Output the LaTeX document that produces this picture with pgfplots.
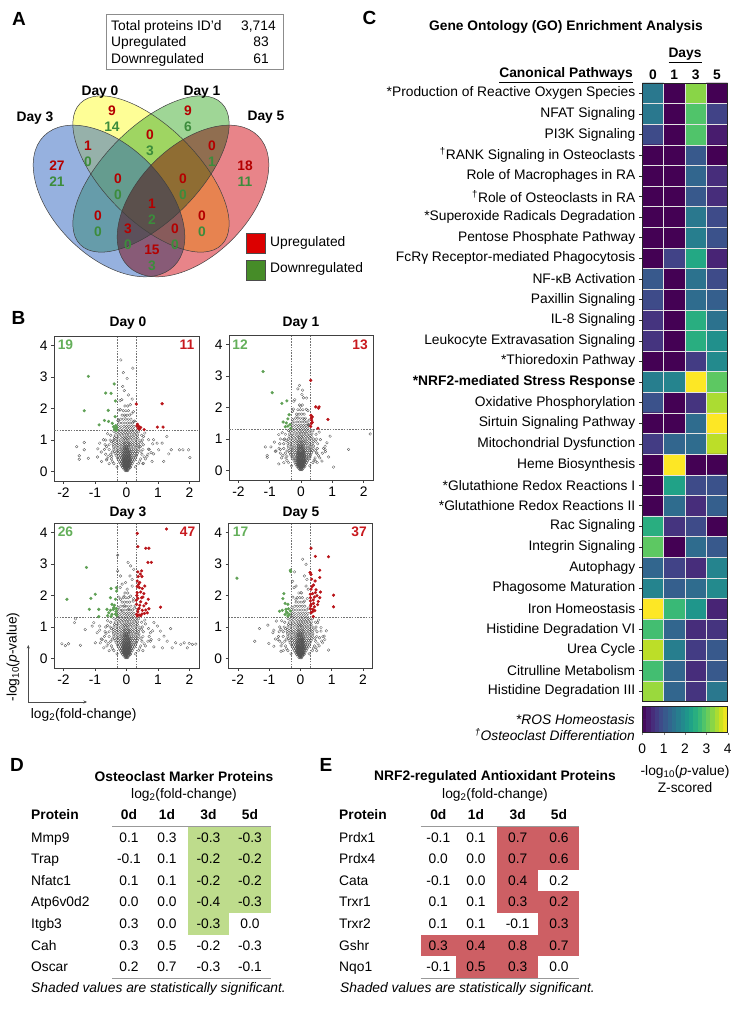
\documentclass[border=0pt]{standalone}
\usepackage{pgfplots}
\pgfplotsset{compat=1.18}
\usepackage{pgfplotstable}
\usetikzlibrary{arrows.meta}
\usepackage{fontspec}
\setmainfont{Liberation Sans}
\newcommand\fs{\fontsize{13.8}{16}\selectfont}
\newcommand\lf{\fontsize{19}{20}\selectfont\bfseries}
\definecolor{vgreen}{RGB}{95,160,85}
\definecolor{vred}{RGB}{185,20,25}
\definecolor{cntgreen}{RGB}{100,175,90}
\definecolor{cntred}{RGB}{200,25,30}
\definecolor{vennblue}{RGB}{46,100,191}
\definecolor{vennyellow}{RGB}{253,253,46}
\definecolor{venngreen}{RGB}{64,173,46}
\definecolor{vennred}{RGB}{210,10,20}
\definecolor{numred}{RGB}{180,0,0}
\definecolor{numgreen}{RGB}{60,140,60}
\definecolor{shadegreen}{RGB}{190,220,140}
\definecolor{shadered}{RGB}{205,95,100}
\definecolor{legred}{RGB}{220,0,0}
\definecolor{leggreen}{RGB}{70,140,40}

% ---------- volcano data ----------
\pgfplotstableread[row sep=\\]{
x y\\
-0.04 0.03\\ 0.00 0.03\\ 0.04 0.03\\
-0.08 0.08\\ -0.03 0.08\\ 0.02 0.08\\ 0.07 0.08\\
-0.12 0.13\\ -0.07 0.13\\ -0.02 0.13\\ 0.03 0.13\\ 0.08 0.13\\ 0.12 0.13\\
-0.16 0.19\\ -0.11 0.19\\ -0.06 0.19\\ -0.01 0.19\\ 0.04 0.19\\ 0.09 0.19\\ 0.14 0.19\\
-0.19 0.25\\ -0.13 0.25\\ -0.08 0.25\\ -0.03 0.25\\ 0.02 0.25\\ 0.07 0.25\\ 0.12 0.25\\ 0.18 0.25\\
-0.22 0.31\\ -0.16 0.31\\ -0.10 0.31\\ -0.05 0.31\\ 0.00 0.31\\ 0.05 0.31\\ 0.10 0.31\\ 0.15 0.31\\ 0.21 0.31\\
-0.26 0.37\\ -0.19 0.37\\ -0.13 0.37\\ -0.07 0.37\\ -0.02 0.37\\ 0.03 0.37\\ 0.08 0.37\\ 0.13 0.37\\ 0.19 0.37\\ 0.25 0.37\\
-0.29 0.43\\ -0.22 0.43\\ -0.15 0.43\\ -0.09 0.43\\ -0.04 0.43\\ 0.01 0.43\\ 0.06 0.43\\ 0.11 0.43\\ 0.17 0.43\\ 0.23 0.43\\ 0.29 0.43\\
-0.33 0.50\\ -0.25 0.50\\ -0.18 0.50\\ -0.11 0.50\\ -0.05 0.50\\ 0.00 0.50\\ 0.05 0.50\\ 0.11 0.50\\ 0.17 0.50\\ 0.24 0.50\\ 0.31 0.50\\
-0.36 0.57\\ -0.27 0.57\\ -0.19 0.57\\ -0.12 0.57\\ -0.06 0.57\\ 0.00 0.57\\ 0.06 0.57\\ 0.12 0.57\\ 0.19 0.57\\ 0.26 0.57\\ 0.34 0.57\\
-0.38 0.64\\ -0.29 0.64\\ -0.21 0.64\\ -0.13 0.64\\ -0.06 0.64\\ 0.01 0.64\\ 0.07 0.64\\ 0.14 0.64\\ 0.21 0.64\\ 0.29 0.64\\ 0.37 0.64\\
-0.40 0.71\\ -0.30 0.71\\ -0.21 0.71\\ -0.13 0.71\\ -0.06 0.71\\ 0.01 0.71\\ 0.08 0.71\\ 0.15 0.71\\ 0.22 0.71\\ 0.30 0.71\\ 0.39 0.71\\
-0.41 0.78\\ -0.31 0.78\\ -0.22 0.78\\ -0.14 0.78\\ -0.07 0.78\\ 0.00 0.78\\ 0.07 0.78\\ 0.14 0.78\\ 0.22 0.78\\ 0.31 0.78\\ 0.40 0.78\\
-0.42 0.85\\ -0.32 0.85\\ -0.22 0.85\\ -0.13 0.85\\ -0.05 0.85\\ 0.03 0.85\\ 0.11 0.85\\ 0.19 0.85\\ 0.28 0.85\\ 0.38 0.85\\
-0.41 0.92\\ -0.31 0.92\\ -0.21 0.92\\ -0.12 0.92\\ -0.04 0.92\\ 0.04 0.92\\ 0.12 0.92\\ 0.20 0.92\\ 0.29 0.92\\ 0.39 0.92\\
-0.40 1.00\\ -0.30 1.00\\ -0.20 1.00\\ -0.11 1.00\\ -0.03 1.00\\ 0.05 1.00\\ 0.13 1.00\\ 0.21 1.00\\ 0.30 1.00\\ 0.40 1.00\\
-0.38 1.08\\ -0.28 1.08\\ -0.18 1.08\\ -0.09 1.08\\ -0.01 1.08\\ 0.07 1.08\\ 0.15 1.08\\ 0.24 1.08\\ 0.34 1.08\\
-0.36 1.16\\ -0.26 1.16\\ -0.16 1.16\\ -0.07 1.16\\ 0.01 1.16\\ 0.09 1.16\\ 0.17 1.16\\ 0.26 1.16\\ 0.35 1.16\\
-0.33 1.24\\ -0.23 1.24\\ -0.13 1.24\\ -0.04 1.24\\ 0.04 1.24\\ 0.12 1.24\\ 0.20 1.24\\ 0.29 1.24\\
-0.29 1.33\\ -0.20 1.33\\ -0.11 1.33\\ -0.02 1.33\\ 0.06 1.33\\ 0.14 1.33\\ 0.22 1.33\\
-0.26 1.43\\ -0.17 1.43\\ -0.08 1.43\\ 0.00 1.43\\ 0.08 1.43\\ 0.16 1.43\\ 0.24 1.43\\
-0.22 1.54\\ -0.13 1.54\\ -0.05 1.54\\ 0.03 1.54\\ 0.11 1.54\\ 0.19 1.54\\
-0.18 1.66\\ -0.10 1.66\\ -0.02 1.66\\ 0.06 1.66\\ 0.14 1.66\\
-0.14 1.79\\ -0.06 1.79\\ 0.02 1.79\\ 0.10 1.79\\
-0.10 1.93\\ -0.02 1.93\\ 0.06 1.93\\
-0.05 2.08\\ 0.04 2.08\\
-0.02 0.05\\ 0.02 0.05\\
-0.05 0.10\\ 0.00 0.10\\ 0.05 0.10\\
-0.09 0.16\\ -0.04 0.16\\ 0.01 0.16\\ 0.06 0.16\\ 0.10 0.16\\
-0.10 0.22\\ -0.05 0.22\\ 0.00 0.22\\ 0.05 0.22\\ 0.10 0.22\\
-0.11 0.28\\ -0.05 0.28\\ 0.01 0.28\\ 0.07 0.28\\ 0.12 0.28\\
-0.12 0.34\\ -0.06 0.34\\ 0.00 0.34\\ 0.06 0.34\\ 0.12 0.34\\
-0.11 0.40\\ -0.05 0.40\\ 0.01 0.40\\ 0.07 0.40\\ 0.13 0.40\\
-0.12 0.47\\ -0.06 0.47\\ 0.00 0.47\\ 0.06 0.47\\ 0.12 0.47\\
-0.10 0.54\\ -0.03 0.54\\ 0.03 0.54\\ 0.09 0.54\\
-0.10 0.61\\ -0.03 0.61\\ 0.04 0.61\\ 0.10 0.61\\
-0.09 0.68\\ -0.02 0.68\\ 0.04 0.68\\ 0.10 0.68\\
-0.08 0.75\\ -0.01 0.75\\ 0.05 0.75\\
-0.08 0.82\\ 0.00 0.82\\ 0.07 0.82\\
-0.02 0.12\\ 0.02 0.12\\ -0.06 0.18\\ 0.03 0.18\\ -0.07 0.24\\ 0.04 0.24\\
-0.08 0.30\\ -0.02 0.30\\ 0.03 0.30\\ 0.09 0.30\\
-0.09 0.36\\ -0.03 0.36\\ 0.03 0.36\\ 0.09 0.36\\
-0.09 0.44\\ -0.03 0.44\\ 0.03 0.44\\ 0.09 0.44\\
-0.08 0.52\\ 0.00 0.52\\ 0.07 0.52\\ -0.07 0.60\\ 0.00 0.60\\ 0.07 0.60\\
-0.05 0.72\\ 0.02 0.72\\ -0.08 0.90\\ 0.00 0.90\\ 0.08 0.90\\ -0.06 1.05\\ 0.02 1.05\\
-0.30 0.15\\ 0.28 0.15\\
-0.40 0.25\\ 0.38 0.25\\ -0.55 0.25\\ 0.52 0.25\\
-0.48 0.40\\ 0.45 0.40\\ -0.62 0.40\\ 0.60 0.40\\
-0.50 0.55\\ 0.49 0.55\\ -0.66 0.55\\ 0.68 0.55\\
-0.55 0.70\\ 0.52 0.70\\ -0.70 0.70\\ 0.72 0.70\\
-0.55 0.85\\ 0.53 0.85\\ -0.68 0.85\\
-0.52 1.00\\ 0.50 1.00\\ -0.66 1.00\\
-0.50 1.15\\ 0.48 1.15\\
-0.45 0.32\\ 0.42 0.33\\ -0.58 0.48\\ 0.56 0.47\\ -0.45 0.62\\ 0.46 0.63\\ -0.80 0.62\\ 0.78 0.60\\
-0.48 0.95\\ 0.47 0.93\\ -0.85 0.90\\ 0.83 0.88\\ -0.40 1.27\\ 0.38 1.26\\ -0.60 1.20\\ 0.58 1.22\\
-0.27 1.62\\ 0.26 1.60\\ -0.24 1.95\\ 0.22 1.90\\ -0.20 2.25\\ 0.18 2.30\\
}\coreT

% Day 0
\pgfplotstableread[row sep=\\]{
x y\\
-0.18 3.54\\ -0.10 3.14\\ 0.20 3.28\\ -0.07 2.57\\ 0.06 2.43\\ -0.15 2.28\\ 0.12 2.12\\ -0.20 1.96\\ 0.17 1.85\\ -0.04 1.75\\ -0.25 1.64\\ 0.22 1.59\\
-1.58 0.79\\ -1.50 0.50\\ -1.50 0.39\\ -1.34 0.92\\ -1.34 0.69\\ -1.21 0.42\\ -0.92 0.46\\ -0.91 0.72\\ -0.73 1.01\\ -0.63 0.79\\ -0.79 0.32\\ -0.63 0.37\\ -0.47 0.48\\ -0.39 1.01\\
0.54 1.11\\ 0.70 1.01\\ 0.86 1.01\\ 0.97 0.90\\ 0.70 0.71\\ 0.86 0.56\\ 1.02 0.69\\ 1.13 0.90\\ 1.28 1.11\\ 1.18 0.32\\ 1.34 0.56\\ 1.42 0.69\\ 1.68 0.69\\ 1.79 0.69\\ 2.01 0.44\\ 1.97 0.69\\ 0.81 0.32\\ 0.54 0.26\\ 0.65 0.48\\ 0.44 0.79\\ 0.02 2.95\\ -0.12 2.70\\
}\grayA
\pgfplotstableread[row sep=\\]{
x y\\
-1.21 3.02\\ -1.34 1.93\\ -0.39 2.78\\ -0.66 2.49\\ -0.49 2.48\\ -0.35 2.24\\ -0.58 1.94\\ -0.36 1.74\\ -0.70 1.62\\ -0.57 1.59\\ -0.87 1.48\\ -0.45 1.53\\ -0.37 1.37\\ -0.33 1.35\\ -0.31 1.40\\ -0.38 1.33\\ -0.34 1.46\\ -0.41 1.42\\ -0.32 1.31\\
}\greenA
\pgfplotstableread[row sep=\\]{
x y\\
0.31 2.14\\ 1.13 2.15\\ 0.35 1.50\\ 0.39 1.43\\ 0.33 1.45\\ 0.41 1.35\\ 0.56 1.33\\ 0.98 1.41\\ 1.16 1.41\\ 0.37 1.37\\ 0.45 1.40\\
}\redA

% Day 1
\pgfplotstableread[row sep=\\]{
x y\\
-0.10 2.59\\ 0.03 2.41\\ 0.08 2.31\\ -0.23 2.20\\ -0.02 2.04\\ 0.17 1.94\\ -0.27 1.88\\ -0.13 1.72\\ 0.11 1.62\\ -0.28 1.51\\ 0.24 1.46\\
-1.14 0.75\\ -0.96 0.75\\ -1.08 0.48\\ -1.08 0.42\\ -0.71 0.21\\ -0.71 1.14\\ -0.55 0.98\\ -0.66 0.67\\ -0.45 0.46\\ -0.82 0.61\\
0.62 0.98\\ 0.77 0.77\\ 0.93 1.09\\ 0.77 0.67\\ 0.88 0.43\\ 1.04 0.11\\ 1.52 0.67\\ 2.21 1.16\\ 0.51 0.56\\ 0.46 0.30\\ 0.67 0.30\\ -0.05 2.70\\ 0.05 2.55\\
}\grayB
\pgfplotstableread[row sep=\\]{
x y\\
-1.21 3.14\\ -0.92 2.47\\ -0.61 2.13\\ -0.45 2.21\\ -0.38 1.77\\ -0.57 1.54\\ -0.47 1.51\\ -0.42 1.64\\ -0.50 1.39\\ -0.42 1.41\\ -0.35 1.46\\ -0.33 1.34\\
}\greenB
\pgfplotstableread[row sep=\\]{
x y\\
0.31 2.86\\ 0.47 2.02\\ 0.56 1.98\\ 0.58 2.02\\ 0.32 1.75\\ 0.36 1.70\\ 0.33 1.66\\ 0.33 1.49\\ 0.36 1.53\\ 0.86 1.62\\ 0.54 1.34\\ 0.34 1.60\\ 0.31 1.40\\
}\redB

% Day 3
\pgfplotstableread[row sep=\\]{
x y\\
-2.05 0.47\\ -1.94 0.41\\ -1.84 0.47\\ -1.62 1.26\\ -1.65 1.14\\ -1.46 0.42\\ -1.31 0.92\\ -1.09 1.03\\ -1.04 1.14\\ -0.85 1.03\\ -0.93 0.82\\ -0.99 0.50\\ -0.83 0.50\\ -0.72 0.34\\ -0.77 0.60\\
1.40 0.95\\ 1.45 0.34\\ 1.56 0.50\\ 1.72 0.45\\ 1.83 0.50\\ 1.99 0.48\\ 2.09 0.45\\ 2.20 0.46\\ 1.93 0.34\\ 1.19 0.71\\ 1.08 0.87\\ 0.98 1.03\\ 0.87 1.14\\ 0.76 0.82\\ 1.03 0.60\\ 1.29 0.55\\ 1.14 0.34\\ 0.87 0.37\\ 0.76 0.55\\
-0.28 2.78\\ -0.19 2.62\\ 0.05 3.05\\ 0.13 2.94\\ -0.03 2.41\\ 0.11 2.62\\ -0.14 2.36\\ 0.23 2.83\\ 0.18 2.51\\ 0.02 2.20\\ -0.08 1.98\\ 0.13 1.98\\ -0.19 1.88\\ 0.21 1.82\\ -0.06 1.67\\ 0.07 1.56\\ -0.14 1.51\\ 0.27 1.67\\ -0.28 3.28\\ 0.60 1.10\\ 0.70 0.95\\ -0.60 1.05\\ -0.65 0.80\\
}\grayC
\pgfplotstableread[row sep=\\]{
x y\\
-1.27 2.89\\ -1.89 1.88\\ -0.99 2.04\\ -1.13 1.91\\ -1.18 1.56\\ -0.88 1.56\\ -0.88 1.33\\ -0.49 2.22\\ -0.32 2.25\\ -0.31 2.14\\ -0.51 1.93\\ -0.35 1.88\\ -0.46 1.72\\ -0.38 1.69\\ -0.62 1.56\\ -0.51 1.53\\ -0.42 1.56\\ -0.32 1.58\\ -0.56 1.45\\ -0.46 1.40\\ -0.35 1.41\\ -0.49 1.33\\ -0.31 1.37\\ -0.40 1.62\\ -0.33 1.49\\ -0.60 1.36\\
}\greenC
\pgfplotstableread[row sep=\\]{
x y\\
1.27 4.11\\ 0.34 3.97\\ 0.36 3.55\\ 0.61 3.50\\ 0.71 3.50\\ 0.68 3.05\\ 0.79 3.05\\ 0.36 2.75\\ 0.48 2.78\\ 0.37 2.60\\
0.49 2.60\\ 0.34 2.46\\ 0.42 2.41\\ 0.34 2.28\\ 0.41 2.25\\ 0.50 2.22\\ 0.34 2.09\\ 0.45 2.11\\ 0.55 2.06\\ 0.36 1.91\\
0.48 1.93\\ 0.69 1.88\\ 0.32 1.72\\ 0.42 1.69\\ 0.55 1.67\\ 1.08 1.63\\ 0.37 1.56\\ 0.50 1.53\\ 0.61 1.54\\ 0.71 1.58\\
0.32 1.40\\ 0.40 1.38\\ 0.49 1.41\\ 0.57 1.43\\ 0.66 1.45\\ 0.34 1.35\\ 0.45 1.36\\ 0.38 2.35\\ 0.45 1.80\\ 0.33 2.00\\
0.52 1.95\\ 0.40 1.60\\ 0.36 1.48\\ 0.58 2.30\\ 0.31 1.85\\ 0.44 2.68\\ 0.62 1.75\\
}\redC

% Day 5
\pgfplotstableread[row sep=\\]{
x y\\
0.07 3.15\\ 0.18 2.99\\ -0.19 2.75\\ 0.13 2.62\\ 0.21 2.51\\ -0.14 2.30\\ 0.02 2.09\\ -0.14 1.88\\ 0.13 1.82\\ -0.25 2.45\\ 0.25 2.20\\
-0.77 1.19\\ -1.04 1.06\\ -1.31 0.95\\ -1.46 0.55\\ -1.01 0.48\\ -0.88 0.82\\ -0.72 0.60\\ -0.85 0.39\\ -0.62 0.23\\ -0.62 0.92\\
0.55 1.14\\ 0.66 0.98\\ 0.76 0.71\\ 0.90 0.27\\ 0.61 0.66\\ 0.71 0.50\\ 0.50 0.34\\ 0.66 0.87\\
}\grayD
\pgfplotstableread[row sep=\\]{
x y\\
-2.03 2.55\\ -0.32 2.80\\ -0.31 2.76\\ -0.53 2.06\\ -0.56 1.90\\ -0.49 1.75\\ -0.40 1.72\\ -0.67 1.50\\ -0.58 1.53\\ -0.46 1.56\\ -0.38 1.58\\ -0.32 1.51\\ -0.42 1.45\\ -0.35 1.40\\ -0.49 1.40\\ -0.40 1.35\\ -0.45 1.48\\
}\greenD
\pgfplotstableread[row sep=\\]{
x y\\
0.34 3.50\\ 0.48 3.24\\ 0.90 3.23\\ 0.62 2.80\\ 0.31 2.73\\ 0.34 2.67\\ 0.62 2.57\\ 0.47 2.46\\ 0.37 2.28\\ 0.42 2.33\\
0.34 2.20\\ 0.50 2.18\\ 0.32 2.04\\ 0.39 2.06\\ 0.48 2.09\\ 0.64 2.11\\ 0.32 1.93\\ 0.45 1.95\\ 0.62 1.93\\ 1.06 2.01\\
0.32 1.83\\ 0.41 1.86\\ 0.57 1.81\\ 0.34 1.72\\ 0.42 1.75\\ 0.55 1.71\\ 1.06 1.64\\ 0.32 1.58\\ 0.40 1.56\\ 0.34 1.45\\
0.39 1.49\\ 0.41 1.33\\ 0.45 1.64\\ 0.36 2.52\\ 0.53 1.99\\ 0.33 1.67\\ 0.46 1.52\\
}\redD

% ---------- heatmap data ----------
\pgfplotstableread[row sep=\\]{
x y c\\
0 1 1.6\\ 1 1 0\\ 2 1 3.3\\ 3 1 0\\
0 2 1.6\\ 1 2 0\\ 2 2 2.9\\ 3 2 0.8\\
0 3 0.9\\ 1 3 0\\ 2 3 2.9\\ 3 3 0.3\\
0 4 0\\ 1 4 0\\ 2 4 1.1\\ 3 4 0\\
0 5 0\\ 1 5 0\\ 2 5 1.3\\ 3 5 0.5\\
0 6 0\\ 1 6 0\\ 2 6 1.1\\ 3 6 0.5\\
0 7 0\\ 1 7 0\\ 2 7 1.6\\ 3 7 0.9\\
0 8 0\\ 1 8 0\\ 2 8 1.7\\ 3 8 1.0\\
0 9 0\\ 1 9 0.8\\ 2 9 2.4\\ 3 9 0.4\\
0 10 1.1\\ 1 10 0\\ 2 10 1.5\\ 3 10 0.9\\
0 11 0.9\\ 1 11 0\\ 2 11 1.4\\ 3 11 1.2\\
0 12 0.6\\ 1 12 0\\ 2 12 2.5\\ 3 12 1.5\\
0 13 0.6\\ 1 13 0\\ 2 13 2.5\\ 3 13 2.0\\
0 14 0\\ 1 14 0\\ 2 14 0.7\\ 3 14 1.9\\
0 15 1.7\\ 1 15 1.8\\ 2 15 4.0\\ 3 15 3.0\\
0 16 1.0\\ 1 16 0\\ 2 16 0.6\\ 3 16 3.5\\
0 17 0\\ 1 17 0\\ 2 17 1.4\\ 3 17 4.0\\
0 18 0.7\\ 1 18 1.3\\ 2 18 1.4\\ 3 18 3.6\\
0 19 0\\ 1 19 4.0\\ 2 19 0\\ 3 19 0\\
0 20 0\\ 1 20 2.3\\ 2 20 0.9\\ 3 20 1.0\\
0 21 0\\ 1 21 1.4\\ 2 21 0.5\\ 3 21 1.2\\
0 22 2.5\\ 1 22 0.6\\ 2 22 0.9\\ 3 22 0\\
0 23 3.0\\ 1 23 0\\ 2 23 1.4\\ 3 23 1.1\\
0 24 1.3\\ 1 24 0.8\\ 2 24 0.5\\ 3 24 1.8\\
0 25 1.8\\ 1 25 1.2\\ 2 25 1.4\\ 3 25 1.9\\
0 26 4.0\\ 1 26 2.7\\ 2 26 2.1\\ 3 26 0.4\\
0 27 2.8\\ 1 27 1.3\\ 2 27 0.5\\ 3 27 0.6\\
0 28 3.6\\ 1 28 1.7\\ 2 28 0.7\\ 3 28 1.1\\
0 29 2.8\\ 1 29 1.3\\ 2 29 0.5\\ 3 29 1.1\\
0 30 3.4\\ 1 30 1.3\\ 2 30 0.6\\ 3 30 1.6\\
}\heatT

\pgfplotstableread[row sep=\\]{
x y c\\
0.1 0.25 0.1\\ 0.3 0.25 0.3\\ 0.5 0.25 0.5\\ 0.7 0.25 0.7\\ 0.9 0.25 0.9\\ 1.1 0.25 1.1\\ 1.3 0.25 1.3\\ 1.5 0.25 1.5\\ 1.7 0.25 1.7\\ 1.9 0.25 1.9\\
2.1 0.25 2.1\\ 2.3 0.25 2.3\\ 2.5 0.25 2.5\\ 2.7 0.25 2.7\\ 2.9 0.25 2.9\\ 3.1 0.25 3.1\\ 3.3 0.25 3.3\\ 3.5 0.25 3.5\\ 3.7 0.25 3.7\\ 3.9 0.25 3.9\\
0.1 0.75 0.1\\ 0.3 0.75 0.3\\ 0.5 0.75 0.5\\ 0.7 0.75 0.7\\ 0.9 0.75 0.9\\ 1.1 0.75 1.1\\ 1.3 0.75 1.3\\ 1.5 0.75 1.5\\ 1.7 0.75 1.7\\ 1.9 0.75 1.9\\
2.1 0.75 2.1\\ 2.3 0.75 2.3\\ 2.5 0.75 2.5\\ 2.7 0.75 2.7\\ 2.9 0.75 2.9\\ 3.1 0.75 3.1\\ 3.3 0.75 3.3\\ 3.5 0.75 3.5\\ 3.7 0.75 3.7\\ 3.9 0.75 3.9\\
}\cbarT

\pgfplotsset{
  volc/.style={anchor=south west, scale only axis, width=145pt, height=145pt,
    xmin=-2.3, xmax=2.3, ymin=-0.3, ymax=4.3,
    xtick={-2,-1,0,1,2}, ytick={0,1,2,3,4},
    tick align=outside, tick pos=left, major tick length=3pt,
    axis line style={black!75, line width=0.7pt},
    every tick/.style={black!75, line width=0.6pt},
    ticklabel style={font=\fs},
    /pgf/number format/assume math mode=true},
  gpt/.style={only marks, mark=o, mark size=1.35pt, mark options={draw=black!68, line width=0.3pt}},
  grn/.style={only marks, mark=*, mark size=1.4pt, mark options={fill=vgreen, draw=vgreen}},
  rdd/.style={only marks, mark=*, mark size=1.4pt, mark options={fill=vred, draw=vred}},
  dsh/.style={black!55, line width=0.4pt, dash pattern=on 1.6pt off 1.2pt},
}
\newcommand\volcplot[3]{%
  \addplot[gpt] table {\coreT};
  \addplot[gpt] table {#1};
  \addplot[dsh] coordinates {(-0.3,-0.3) (-0.3,4.3)};
  \addplot[dsh] coordinates {(0.3,-0.3) (0.3,4.3)};
  \addplot[dsh] coordinates {(-2.3,1.3) (2.3,1.3)};
  \addplot[grn] table {#2};
  \addplot[rdd] table {#3};
}

\begin{document}
\begin{tikzpicture}
\path[use as bounding box] (0,0) rectangle (747pt,1020pt);

% ---------- Panel B volcano plots ----------
\begin{axis}[volc, at={(54pt,539pt)}]
\volcplot{\grayA}{\greenA}{\redA}
\end{axis}
\begin{axis}[volc, at={(229pt,540pt)}, width=144pt]
\volcplot{\grayB}{\greenB}{\redB}
\end{axis}
\begin{axis}[volc, at={(54pt,352pt)}]
\volcplot{\grayC}{\greenC}{\redC}
\end{axis}
\begin{axis}[volc, at={(228.5pt,352pt)}, width=143.8pt]
\volcplot{\grayD}{\greenD}{\redD}
\end{axis}

% ---------- Panel C heatmap ----------
\begin{axis}[at={(642.3pt,318.4pt)}, anchor=south west, scale only axis,
  width=85.4pt, height=618.6pt,
  xmin=-0.5, xmax=3.5, ymin=0.5, ymax=30.5, y dir=reverse, enlargelimits=false,
  colormap/viridis, point meta min=0, point meta max=4,
  xtick={0,1,2,3}, xticklabels={0,1,3,5}, xticklabel pos=upper,
  xticklabel style={font=\fs\bfseries, yshift=-4pt},
  xtick style={draw=none},
  ytick={1,...,30}, ytick pos=left, tick align=outside, major tick length=3.5pt,
  yticklabel style={font=\fs},
  yticklabels={
    *Production of Reactive Oxygen Species,
    NFAT Signaling,
    PI3K Signaling,
    \textsuperscript{†}RANK Signaling in Osteoclasts,
    Role of Macrophages in RA,
    \textsuperscript{†}Role of Osteoclasts in RA,
    *Superoxide Radicals Degradation,
    Pentose Phosphate Pathway,
    FcRγ Receptor-mediated Phagocytosis,
    NF-κB Activation,
    Paxillin Signaling,
    IL-8 Signaling,
    Leukocyte Extravasation Signaling,
    *Thioredoxin Pathway,
    {\bfseries *NRF2-mediated Stress Response},
    Oxidative Phosphorylation,
    Sirtuin Signaling Pathway,
    Mitochondrial Dysfunction,
    Heme Biosynthesis,
    *Glutathione Redox Reactions I,
    *Glutathione Redox Reactions II,
    Rac Signaling,
    Integrin Signaling,
    Autophagy,
    Phagosome Maturation,
    Iron Homeostasis,
    Histidine Degradation VI,
    Urea Cycle,
    Citrulline Metabolism,
    Histidine Degradation III},
  minor xtick={0.5,1.5,2.5}, minor ytick={1.5,2.5,...,29.5}, minor tick length=0pt,
  grid=minor, minor grid style={white!78!gray, line width=0.5pt},
  axis on top, axis line style={black!85, line width=0.6pt},
  every tick/.style={black!85, line width=0.5pt}]
\addplot[matrix plot*, mesh/cols=4, point meta=explicit] table[meta=c] {\heatT};
\end{axis}

% colorbar
\begin{axis}[at={(642.3pt,287.3pt)}, anchor=south west, scale only axis,
  width=85.4pt, height=26pt, xmin=0, xmax=4, ymin=0, ymax=1, enlargelimits=false,
  colormap/viridis, point meta min=0, point meta max=4,
  xtick={0,1,2,3,4}, ytick=\empty, tick pos=left, tick align=outside, major tick length=2.5pt,
  xticklabel style={font=\fs, yshift=-5pt}, /pgf/number format/assume math mode=true,
  axis on top, axis line style={black!85, line width=0.6pt}]
\addplot[matrix plot*, mesh/cols=20, point meta=explicit] table[meta=c] {\cbarT};
\end{axis}

% ---------- TikZ text, Venn, tables (image coordinates) ----------
\begin{scope}[x=1pt, y=-1pt, yshift=1020pt,
  every node/.style={inner sep=0pt, font=\fs, text height=0.72em, text depth=0pt}]

% Panel letters
\node[font=\lf, text height=13.7pt] at (19,19) {A};
\node[font=\lf, text height=13.7pt] at (18.5,318) {B};
\node[font=\lf, text height=13.7pt] at (369.5,18) {C};
\node[font=\lf, text height=13.7pt] at (17,765) {D};
\node[font=\lf, text height=13.7pt] at (326,765) {E};

% Panel A summary box
\draw[black!45, line width=0.7pt] (106,14) rectangle (283,69);
\node[anchor=west] at (111,26.5) {Total proteins ID’d};
\node at (258.5,26.5) {3,714};
\node[anchor=west] at (111,43) {Upregulated};
\node at (261,43) {83};
\node[anchor=west] at (111,60) {Downregulated};
\node at (261,60) {61};

% Venn ellipses
\begin{scope}[line width=0.5pt]
\fill[vennyellow, fill opacity=0.5, rotate around={-45:(151,174)}] (151,174) ellipse (100 and 47);
\fill[venngreen, fill opacity=0.5, rotate around={45:(151,174)}] (151,174) ellipse (100 and 47);
\fill[vennblue, fill opacity=0.5, rotate around={-45:(109,201)}] (109,201) ellipse (92 and 55);
\fill[vennred, fill opacity=0.5, blend mode=multiply, rotate around={45:(193,201)}] (193,201) ellipse (92 and 55);
\draw[black!75, rotate around={-45:(151,174)}] (151,174) ellipse (100 and 47);
\draw[black!75, rotate around={45:(151,174)}] (151,174) ellipse (100 and 47);
\draw[black!75, rotate around={-45:(109,201)}] (109,201) ellipse (92 and 55);
\draw[black!75, rotate around={45:(193,201)}] (193,201) ellipse (92 and 55);
\end{scope}

\node[font=\fs\bfseries] at (35,118) {Day 3};
\node[font=\fs\bfseries] at (100,92) {Day 0};
\node[font=\fs\bfseries] at (202,92) {Day 1};
\node[font=\fs\bfseries] at (266,117) {Day 5};

\newcommand\vn[4]{%
  \node[font=\fs\bfseries, text=numred] at (#1,#2) {#3};
  \node[font=\fs\bfseries, text=numgreen] at (#1,#2+16) {#4};}
\vn{112}{112}{9}{14}
\vn{188}{112}{9}{6}
\vn{150}{136}{0}{3}
\vn{88}{147}{1}{0}
\vn{212}{147}{0}{1}
\vn{57}{167}{27}{21}
\vn{245}{167}{18}{11}
\vn{118}{180}{0}{0}
\vn{183}{180}{0}{0}
\vn{152}{205}{1}{2}
\vn{98}{217}{0}{0}
\vn{202}{217}{0}{0}
\vn{128}{230}{3}{0}
\vn{175}{230}{0}{0}
\vn{152}{251}{15}{3}

% Venn legend
\filldraw[fill=legred, draw=black!70, line width=0.5pt] (246,233) rectangle (265,253);
\filldraw[fill=leggreen, draw=black!70, line width=0.5pt] (246,260) rectangle (265,280);
\node[anchor=west] at (270,243) {Upregulated};
\node[anchor=west] at (270,269) {Downregulated};

% Panel B titles and counts
\node[font=\fs\bfseries] at (128,323) {Day 0};
\node[font=\fs\bfseries] at (301,323) {Day 1};
\node[font=\fs\bfseries] at (128,513) {Day 3};
\node[font=\fs\bfseries] at (301,513) {Day 5};
\node[font=\fs\bfseries, text=cntgreen] at (65.5,345.5) {19};
\node[font=\fs\bfseries, text=cntred] at (187,345.5) {11};
\node[font=\fs\bfseries, text=cntgreen] at (240,345.5) {12};
\node[font=\fs\bfseries, text=cntred] at (360,345.5) {13};
\node[font=\fs\bfseries, text=cntgreen] at (65.5,533.3) {26};
\node[font=\fs\bfseries, text=cntred] at (187.5,533.3) {47};
\node[font=\fs\bfseries, text=cntgreen] at (240.5,533.3) {17};
\node[font=\fs\bfseries, text=cntred] at (359,533.3) {37};

% axis key arrows
\draw[black!70, line width=0.6pt, -{Stealth[length=3.5pt,width=3pt]}] (28.3,702) -- (28.3,645);
\draw[black!70, line width=0.6pt, -{Stealth[length=3.5pt,width=3pt]}] (28.3,702) -- (87,702);
\node[rotate=90] at (13,657) {-log\textsubscript{10}(\textit{p}-value)};
\node at (83.7,715) {log\textsubscript{2}(fold-change)};

% Panel C headers
\node[font=\fs\bfseries] at (566,27) {Gene Ontology (GO) Enrichment Analysis};
\node[font=\fs\bfseries] at (685,54) {\underline{Days}};
\node[font=\fs\bfseries, anchor=east] at (633,74) {\underline{Canonical Pathways}};
\node[font=\fs\itshape, anchor=east] at (635,720.7) {*ROS Homeostasis};
\node[font=\fs\itshape, anchor=east] at (635,737.3) {\textsuperscript{†}Osteoclast Differentiation};
\node at (685,771.7) {-log\textsubscript{10}(\textit{p}-value)};
\node at (685,789) {Z-scored};

% ---------- Panel D table ----------
\fill[shadegreen] (188,826.7) rectangle (271,913.1);
\fill[shadegreen] (188,913.1) rectangle (229,934.7);
\node[font=\fs\bfseries] at (184,778) {Osteoclast Marker Proteins};
\node at (184,795) {log\textsubscript{2}(fold-change)};
\node[font=\fs\bfseries, anchor=west] at (31,816) {Protein};
\node[font=\fs\bfseries] at (129,816) {0d};
\node[font=\fs\bfseries] at (167,816) {1d};
\node[font=\fs\bfseries] at (208.5,816) {3d};
\node[font=\fs\bfseries] at (250,816) {5d};
\draw[black!40, line width=0.8pt] (112,826.7) -- (271,826.7);
\draw[black!40, line width=0.8pt] (112,978.3) -- (271,978.3);
\newcommand\drow[6]{%
  \node[anchor=west] at (31,#1) {#2};
  \node at (129,#1) {#3};
  \node at (167,#1) {#4};
  \node at (208.5,#1) {#5};
  \node at (250,#1) {#6};}
\drow{838.5}{Mmp9}{0.1}{0.3}{-0.3}{-0.3}
\drow{860.1}{Trap}{-0.1}{0.1}{-0.2}{-0.2}
\drow{881.7}{Nfatc1}{0.1}{0.1}{-0.2}{-0.2}
\drow{903.3}{Atp6v0d2}{0.0}{0.0}{-0.4}{-0.3}
\drow{924.9}{Itgb3}{0.3}{0.0}{-0.3}{0.0}
\drow{946.5}{Cah}{0.3}{0.5}{-0.2}{-0.3}
\drow{968.1}{Oscar}{0.2}{0.7}{-0.3}{-0.1}
\node[font=\fs\itshape, anchor=west] at (31,988.5) {Shaded values are statistically significant.};

% ---------- Panel E table ----------
\fill[shadered] (497,826.7) rectangle (579.3,869.9);
\fill[shadered] (497,869.9) rectangle (538.3,891.5);
\fill[shadered] (497,891.5) rectangle (579.3,913.1);
\fill[shadered] (538.3,913.1) rectangle (579.3,934.7);
\fill[shadered] (420.7,934.7) rectangle (579.3,956.3);
\fill[shadered] (456,956.3) rectangle (538.3,977.9);
\node[font=\fs\bfseries] at (495,777) {NRF2-regulated Antioxidant Proteins};
\node at (495,795) {log\textsubscript{2}(fold-change)};
\node[font=\fs\bfseries, anchor=west] at (339,816) {Protein};
\node[font=\fs\bfseries] at (438.3,816) {0d};
\node[font=\fs\bfseries] at (476,816) {1d};
\node[font=\fs\bfseries] at (517.7,816) {3d};
\node[font=\fs\bfseries] at (559,816) {5d};
\draw[black!40, line width=0.8pt] (420.7,826.7) -- (579.3,826.7);
\draw[black!40, line width=0.8pt] (420.7,978.3) -- (579.3,978.3);
\newcommand\erow[6]{%
  \node[anchor=west] at (339,#1) {#2};
  \node at (438.3,#1) {#3};
  \node at (476,#1) {#4};
  \node at (517.7,#1) {#5};
  \node at (559,#1) {#6};}
\erow{838.5}{Prdx1}{-0.1}{0.1}{0.7}{0.6}
\erow{860.1}{Prdx4}{0.0}{0.0}{0.7}{0.6}
\erow{881.7}{Cata}{-0.1}{0.0}{0.4}{0.2}
\erow{903.3}{Trxr1}{0.1}{0.1}{0.3}{0.2}
\erow{924.9}{Trxr2}{0.1}{0.1}{-0.1}{0.3}
\erow{946.5}{Gshr}{0.3}{0.4}{0.8}{0.7}
\erow{968.1}{Nqo1}{-0.1}{0.5}{0.3}{0.0}
\node[font=\fs\itshape, anchor=west] at (340,988.5) {Shaded values are statistically significant.};
\end{scope}
\end{tikzpicture}
\end{document}
